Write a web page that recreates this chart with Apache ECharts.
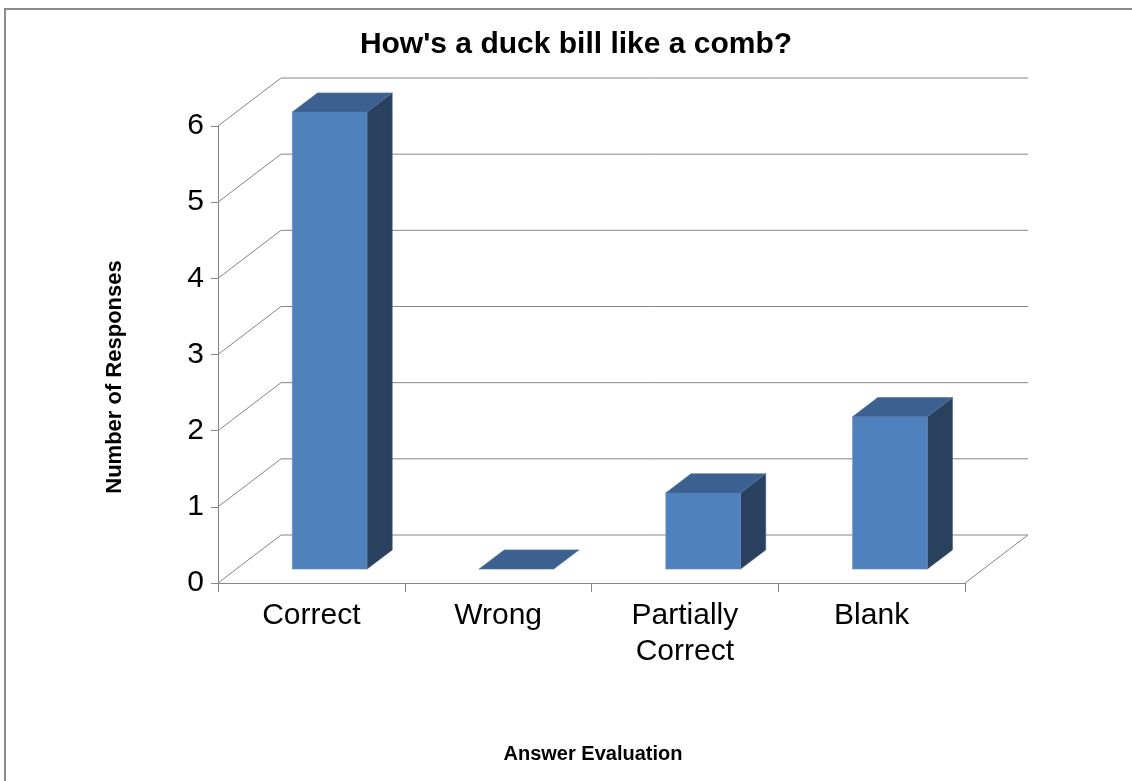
<!DOCTYPE html>
<html>
<head>
<meta charset="utf-8">
<script src="https://cdn.jsdelivr.net/npm/echarts@6/dist/echarts.min.js"></script>
<style>
  html, body { margin: 0; padding: 0; background: #ffffff; }
  #chart { width: 1132px; height: 781px; }
</style>
</head>
<body>
<div id="chart"></div>
<script>
// Survey answers, one bar per evaluation category
const categories = ['Correct', 'Wrong', 'Partially\nCorrect', 'Blank'];
const responses = [6, 0, 1, 2];
const yTicks = [0, 1, 2, 3, 4, 5, 6];

// Perspective depth of the plot box (pixels) and bar placement within that depth
const DEPTH_X = 63;
const DEPTH_Y = -48;
const BAR_FRONT = 0.29;
const BAR_BACK = 0.69;
const BAR_WIDTH = 0.4;

const FONT = '"Liberation Sans", Arial, Helvetica, sans-serif';
const LINE = '#868686';

const chart = echarts.init(document.getElementById('chart'), null, { renderer: 'canvas' });

// Back wall, left wall and floor of the 3D box
function renderFrame(params, api) {
  const cs = params.coordSys;
  const left = cs.x, right = cs.x + cs.width;
  const children = [];
  yTicks.forEach(function (t) {
    const y = api.coord([0, t])[1];
    children.push({
      type: 'line',
      shape: { x1: left + DEPTH_X, y1: y + DEPTH_Y, x2: right + DEPTH_X, y2: y + DEPTH_Y },
      style: { stroke: LINE, lineWidth: 1 }
    });
    children.push({
      type: 'line',
      shape: { x1: left, y1: y, x2: left + DEPTH_X, y2: y + DEPTH_Y },
      style: { stroke: LINE, lineWidth: 1 }
    });
  });
  const y0 = api.coord([0, 0])[1];
  children.push({
    type: 'line',
    shape: { x1: right, y1: y0, x2: right + DEPTH_X, y2: y0 + DEPTH_Y },
    style: { stroke: LINE, lineWidth: 1 }
  });
  return { type: 'group', children: children };
}

// Box-shaped bar: front face, top face and right side face
function renderBar(params, api) {
  const idx = api.value(0);
  const val = api.value(1);
  const base = api.coord([idx, 0]);
  const topPt = api.coord([idx, val]);
  const w = api.size([1, 0])[0] * BAR_WIDTH;
  const fx = BAR_FRONT * DEPTH_X, fy = BAR_FRONT * DEPTH_Y;
  const bx = BAR_BACK * DEPTH_X, by = BAR_BACK * DEPTH_Y;
  const xl = base[0] - w / 2, xr = base[0] + w / 2;
  const yb = base[1], yt = topPt[1];

  const children = [];
  if (yb - yt > 0) {
    children.push({
      type: 'polygon',
      shape: { points: [[xr + fx, yt + fy], [xr + bx, yt + by], [xr + bx, yb + by], [xr + fx, yb + fy]] },
      style: { fill: '#29405F', stroke: '#3a5677', lineWidth: 0.6 }
    });
    children.push({
      type: 'rect',
      shape: { x: xl + fx, y: yt + fy, width: w, height: yb - yt },
      style: { fill: '#4F81BD', stroke: '#6a93c6', lineWidth: 0.6 }
    });
  }
  children.push({
    type: 'polygon',
    shape: { points: [[xl + fx, yt + fy], [xr + fx, yt + fy], [xr + bx, yt + by], [xl + bx, yt + by]] },
    style: { fill: '#3C6190', stroke: '#4f74a3', lineWidth: 0.6 }
  });
  return { type: 'group', children: children };
}

const option = {
  animation: false,
  backgroundColor: '#ffffff',
  grid: { left: 218, top: 126, width: 747, height: 457 },
  xAxis: {
    type: 'category',
    data: categories,
    boundaryGap: true,
    axisLine: { lineStyle: { color: LINE, width: 1 } },
    axisTick: { show: true, interval: 0, length: 9, lineStyle: { color: LINE } },
    axisLabel: {
      interval: 0, margin: 15, color: '#000', fontSize: 30, lineHeight: 36,
      fontFamily: FONT
    },
    splitLine: { show: false }
  },
  yAxis: {
    type: 'value',
    min: 0, max: 6, interval: 1,
    axisLine: { show: true, lineStyle: { color: LINE, width: 1 } },
    axisTick: { show: true, length: 7, lineStyle: { color: LINE } },
    axisLabel: { margin: 14, color: '#000', fontSize: 30, fontFamily: FONT },
    splitLine: { show: false }
  },
  graphic: [
    {
      type: 'rect', silent: true, z: -1,
      shape: { x: 5, y: 9, width: 1300, height: 1000 },
      style: { fill: 'none', stroke: '#8c8c8c', lineWidth: 2 }
    },
    {
      type: 'text', x: 576, y: 45,
      style: {
        text: "How's a duck bill like a comb?", fill: '#000',
        font: 'bold 30px ' + FONT, textAlign: 'center', textVerticalAlign: 'middle'
      }
    },
    {
      type: 'text', x: 115, y: 377, rotation: Math.PI / 2,
      style: {
        text: 'Number of Responses', fill: '#000',
        font: 'bold 22px ' + FONT, textAlign: 'center', textVerticalAlign: 'middle'
      }
    },
    {
      type: 'text', x: 593, y: 754,
      style: {
        text: 'Answer Evaluation', fill: '#000',
        font: 'bold 20px ' + FONT, textAlign: 'center', textVerticalAlign: 'middle'
      }
    }
  ],
  series: [
    {
      type: 'custom',
      name: 'frame',
      z: 1,
      renderItem: renderFrame,
      data: [[0, 0]],
      silent: true
    },
    {
      type: 'custom',
      name: 'Responses',
      z: 3,
      renderItem: renderBar,
      encode: { x: 0, y: 1 },
      data: responses.map(function (v, i) { return [i, v]; })
    }
  ]
};

chart.setOption(option);
</script>
</body>
</html>
